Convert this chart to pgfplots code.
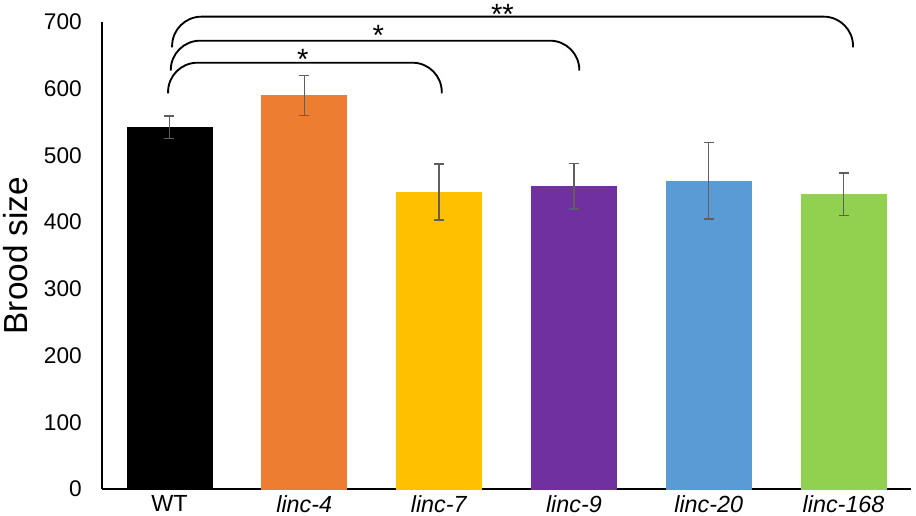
\documentclass[border=0pt]{standalone}
\usepackage{pgfplots}
\pgfplotsset{compat=1.18}
\usepackage{fontspec}
\setmainfont{Liberation Sans}
\definecolor{cWT}{HTML}{000000}
\definecolor{cL4}{HTML}{ED7D31}
\definecolor{cL7}{HTML}{FFC000}
\definecolor{cL9}{HTML}{7030A0}
\definecolor{cL20}{HTML}{5B9BD5}
\definecolor{cL168}{HTML}{92D050}
\definecolor{errc}{HTML}{5F5F5F}
\begin{document}
\begin{tikzpicture}
\useasboundingbox (-76.5pt,-19.5pt) rectangle (610.5pt,366.75pt);
\begin{axis}[
  at={(0,0)}, anchor=south west,
  scale only axis,
  width=606.75pt, height=350.25pt,
  xmin=-0.5, xmax=5.5, ymin=0, ymax=700,
  enlargelimits=false,
  clip=false,
  axis x line*=bottom, axis y line*=left,
  axis line style={-, line width=0.8pt, black},
  major tick length=0pt,
  xtick={0,1,2,3,4,5},
  xticklabels={WT,\textit{linc-4},\textit{linc-7},\textit{linc-9},\textit{linc-20},\textit{linc-168}},
  ytick={0,100,200,300,400,500,600,700},
  /pgf/number format/assume math mode=true,
  yticklabel style={font=\fontsize{17}{19}\selectfont, inner sep=0pt, xshift=-15pt},
  xticklabel style={font=\fontsize{17.5}{19}\selectfont, inner sep=0pt, yshift=-4.5pt},
  ylabel={Brood size},
  ylabel style={at={(axis description cs:-0.1063,0.5)}, anchor=center, font=\fontsize{25}{28}\selectfont},
  error bars/y dir=both, error bars/y explicit,
  error bars/error bar style={draw=errc, line width=1.1pt},
  error bars/error mark options={draw=errc, rotate=90, mark size=3.75pt, line width=1.1pt},
]
\addplot[ybar, bar width=63.75pt, bar shift=0pt, fill=cWT, draw=cWT] coordinates {(0,542) +- (0,17)};
\addplot[ybar, bar width=63.75pt, bar shift=0pt, fill=cL4, draw=cL4] coordinates {(1,590) +- (0,30)};
\addplot[ybar, bar width=63.75pt, bar shift=0pt, fill=cL7, draw=cL7] coordinates {(2,445) +- (0,42)};
\addplot[ybar, bar width=63.75pt, bar shift=0pt, fill=cL9, draw=cL9] coordinates {(3,454) +- (0,34)};
\addplot[ybar, bar width=63.75pt, bar shift=0pt, fill=cL20, draw=cL20] coordinates {(4,462) +- (0,57)};
\addplot[ybar, bar width=63.75pt, bar shift=0pt, fill=cL168, draw=cL168] coordinates {(5,442) +- (0,32)};
% significance brackets
\draw[line width=1.4pt, rounded corners=22pt] (axis cs:-0.01,593) -- (axis cs:-0.01,639) -- (axis cs:2.02,639) -- (axis cs:2.02,593);
\draw[line width=1.4pt, rounded corners=22pt] (axis cs:0.01,627) -- (axis cs:0.01,672) -- (axis cs:3.04,672) -- (axis cs:3.04,627);
\draw[line width=1.4pt, rounded corners=22pt] (axis cs:0.02,662) -- (axis cs:0.02,708) -- (axis cs:5.07,708) -- (axis cs:5.07,662);
\node[anchor=north, inner sep=0pt, font=\fontsize{22}{24}\selectfont] at (axis cs:0.99,660) {*};
\node[anchor=north, inner sep=0pt, font=\fontsize{22}{24}\selectfont] at (axis cs:1.55,695) {*};
\node[anchor=north, inner sep=0pt, font=\fontsize{22}{24}\selectfont] at (axis cs:2.47,727) {**};
\end{axis}
\end{tikzpicture}
\end{document}
